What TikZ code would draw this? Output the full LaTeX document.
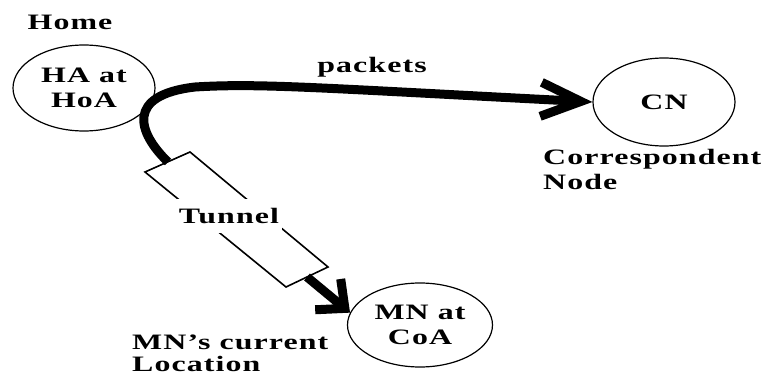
\documentclass[tikz,border=0pt]{standalone}
\usepackage{fontspec}
\setmainfont{Liberation Serif}[FakeStretch=1.45,LetterSpace=5]
\usetikzlibrary{arrows.meta,shapes.geometric}
\begin{document}
\begin{tikzpicture}[x=1pt,y=-1pt,
  hostnode/.style={ellipse, draw, line width=1.2pt, inner sep=0pt, align=center,
    font=\bfseries\fontsize{22}{25}\selectfont},
  lbl/.style={font=\bfseries\fontsize{22}{25}\selectfont, inner sep=0pt, align=left},
  flow/.style={line width=9pt},
  tunnelbox/.style={draw, line width=1.6pt, line join=miter}]
\useasboundingbox (0,0) rectangle (764,377);
% hosts
\node[hostnode, minimum width=142pt, minimum height=86pt] (ha) at (84,88) {HA at\\HoA};
\node[hostnode, minimum width=142pt, minimum height=88pt] (cn) at (664,102) {CN};
\node[hostnode, minimum width=145pt, minimum height=84pt] (mn) at (420,325) {MN at\\CoA};
% tunnel
\coordinate (tA) at (145,172);
\coordinate (tB) at (190,152);
\coordinate (tC) at (328,267);
\coordinate (tD) at (286,287);
\coordinate (t1) at (168,162);
\coordinate (t2) at (307,277);
\draw[tunnelbox] (tA) -- (tB) -- (tC) -- (tD) -- cycle;
\node[lbl, fill=white, inner xsep=3pt, inner ysep=9pt] (tl) at (229,216) {Tunnel};
% flows
\coordinate (k1) at (137,132);
\coordinate (k2) at (126,95);
\coordinate (k3) at (195,87);
\coordinate (k4) at (260,83);
\coordinate (k5) at (320,88);
\draw[flow, -{Straight Barb[length=40pt,width=34pt]}]
  (t1) .. controls (k1) and (k2) .. (k3) .. controls (k4) and (k5) .. (cn.west);
\draw[flow, -{Straight Barb[length=22pt,width=40pt]}] (t2) -- (mn.170);
% labels
\node[lbl] (home) at (70,22) {Home};
\node[lbl] (pk) at (372,67) {packets};
\node[lbl, anchor=north west] (cnl) at (543,149) {Correspondent\\Node};
\node[lbl, anchor=north west] (mnl) at (132,335) {MN's current\\[-3pt]Location};
\end{tikzpicture}
\end{document}
